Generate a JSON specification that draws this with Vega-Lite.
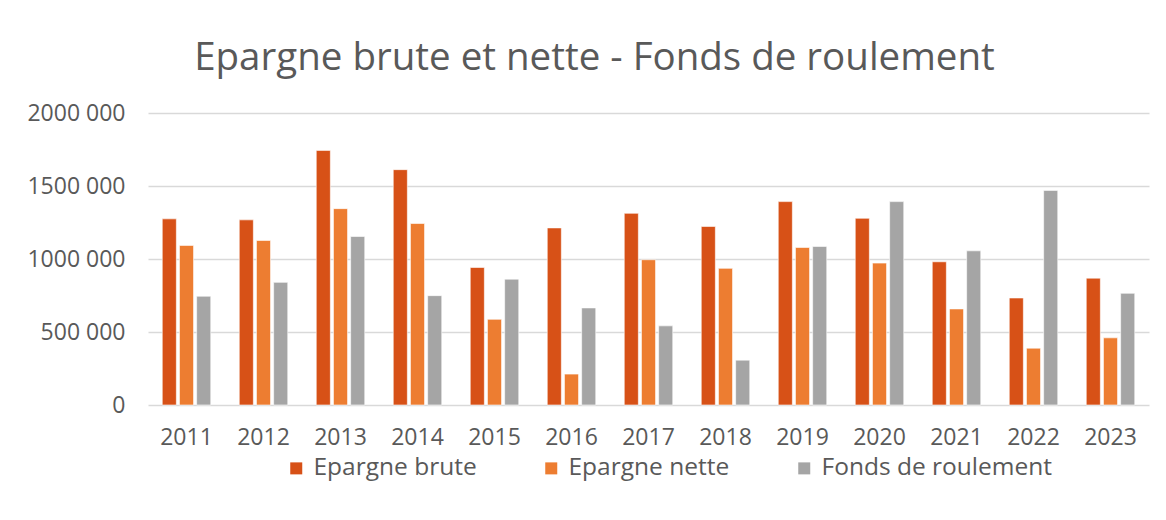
{
  "$schema": "https://vega.github.io/schema/vega-lite/v6.json",
  "autosize": "none",
  "width": 1001,
  "height": 292,
  "padding": {"left": 148, "top": 113, "right": 17, "bottom": 115},
  "background": "white",
  "title": {
    "text": "Epargne brute et nette - Fonds de roulement",
    "font": "Open Sans",
    "fontSize": 38.5,
    "fontWeight": "normal",
    "color": "#595959",
    "anchor": "middle",
    "dx": -54,
    "offset": 24
  },
  "data": {
    "values": [
      {"year": "2011", "series": "Epargne brute", "value": 1275000},
      {"year": "2011", "series": "Epargne nette", "value": 1093000},
      {"year": "2011", "series": "Fonds de roulement", "value": 745000},
      {"year": "2012", "series": "Epargne brute", "value": 1268000},
      {"year": "2012", "series": "Epargne nette", "value": 1127000},
      {"year": "2012", "series": "Fonds de roulement", "value": 840000},
      {"year": "2013", "series": "Epargne brute", "value": 1744000},
      {"year": "2013", "series": "Epargne nette", "value": 1345000},
      {"year": "2013", "series": "Fonds de roulement", "value": 1154000},
      {"year": "2014", "series": "Epargne brute", "value": 1612000},
      {"year": "2014", "series": "Epargne nette", "value": 1243000},
      {"year": "2014", "series": "Fonds de roulement", "value": 749000},
      {"year": "2015", "series": "Epargne brute", "value": 942000},
      {"year": "2015", "series": "Epargne nette", "value": 587000},
      {"year": "2015", "series": "Fonds de roulement", "value": 862000},
      {"year": "2016", "series": "Epargne brute", "value": 1213000},
      {"year": "2016", "series": "Epargne nette", "value": 212000},
      {"year": "2016", "series": "Fonds de roulement", "value": 665000},
      {"year": "2017", "series": "Epargne brute", "value": 1313000},
      {"year": "2017", "series": "Epargne nette", "value": 995000},
      {"year": "2017", "series": "Fonds de roulement", "value": 542000},
      {"year": "2018", "series": "Epargne brute", "value": 1223000},
      {"year": "2018", "series": "Epargne nette", "value": 936000},
      {"year": "2018", "series": "Fonds de roulement", "value": 307000},
      {"year": "2019", "series": "Epargne brute", "value": 1393000},
      {"year": "2019", "series": "Epargne nette", "value": 1079000},
      {"year": "2019", "series": "Fonds de roulement", "value": 1086000},
      {"year": "2020", "series": "Epargne brute", "value": 1279000},
      {"year": "2020", "series": "Epargne nette", "value": 972000},
      {"year": "2020", "series": "Fonds de roulement", "value": 1393000},
      {"year": "2021", "series": "Epargne brute", "value": 981000},
      {"year": "2021", "series": "Epargne nette", "value": 658000},
      {"year": "2021", "series": "Fonds de roulement", "value": 1056000},
      {"year": "2022", "series": "Epargne brute", "value": 733000},
      {"year": "2022", "series": "Epargne nette", "value": 389000},
      {"year": "2022", "series": "Fonds de roulement", "value": 1470000},
      {"year": "2023", "series": "Epargne brute", "value": 869000},
      {"year": "2023", "series": "Epargne nette", "value": 460000},
      {"year": "2023", "series": "Fonds de roulement", "value": 765000}
    ]
  },
  "mark": {"type": "bar", "stroke": "#ffffff", "strokeWidth": 1, "strokeOpacity": 0.6},
  "encoding": {
    "x": {
      "field": "year",
      "type": "nominal",
      "scale": {"paddingInner": 0.37, "paddingOuter": 0.185},
      "axis": {
        "title": null,
        "labelAngle": 0,
        "labelFont": "Open Sans",
        "labelFontSize": 23,
        "labelColor": "#595959",
        "labelPadding": 21,
        "ticks": false,
        "domain": false
      }
    },
    "xOffset": {
      "field": "series",
      "type": "nominal",
      "scale": {"paddingInner": 0.18}
    },
    "y": {
      "field": "value",
      "type": "quantitative",
      "scale": {"domain": [0, 2000000], "nice": false},
      "axis": {
        "title": null,
        "values": [0, 500000, 1000000, 1500000, 2000000],
        "labelExpr": "datum.value == 0 ? '0' : floor(datum.value / 1000) + ' 000'",
        "labelFont": "Open Sans",
        "labelFontSize": 23,
        "labelColor": "#595959",
        "labelPadding": 23,
        "ticks": false,
        "domain": false,
        "grid": true,
        "gridColor": "#D9D9D9",
        "gridWidth": 1.5
      }
    },
    "color": {
      "field": "series",
      "type": "nominal",
      "scale": {
        "domain": ["Epargne brute", "Epargne nette", "Fonds de roulement"],
        "range": ["#D75117", "#ED7D31", "#A5A5A5"]
      },
      "legend": {
        "title": null,
        "orient": "none",
        "direction": "horizontal",
        "legendX": 136,
        "legendY": 343,
        "symbolType": "square",
        "symbolSize": 144,
        "symbolStrokeWidth": 0,
        "labelFont": "Open Sans",
        "labelFontSize": 24.5,
        "labelLimit": 400,
        "labelColor": "#595959",
        "columnPadding": 62,
        "labelOffset": 5
      }
    }
  },
  "config": {
    "view": {"stroke": null}
  }
}
